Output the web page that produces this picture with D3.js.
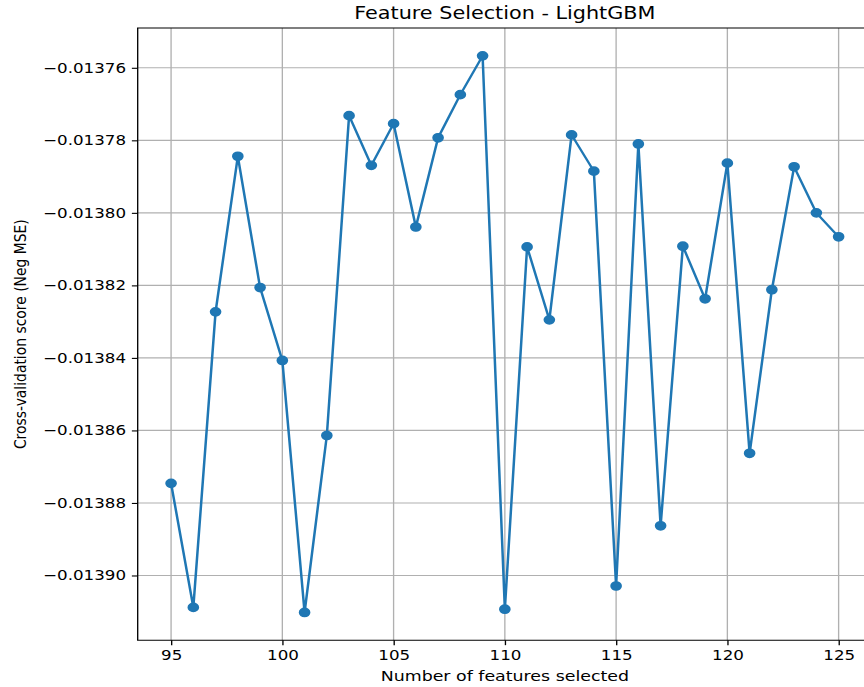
<!DOCTYPE html>
<html>
<head>
<meta charset="utf-8">
<script src="https://cdn.jsdelivr.net/npm/d3@7"></script>
<style>
  html, body { margin: 0; padding: 0; background: #fff; }
  svg { display: block; }
  text { font-family: "DejaVu Sans", sans-serif; fill: #000; }
</style>
</head>
<body>
<svg id="chart"></svg>
<script>
// ---- data ----
const features = [95, 96, 97, 98, 99, 100, 101, 102, 103, 104, 105, 106, 107, 108, 109, 110,
                  111, 112, 113, 114, 115, 116, 117, 118, 119, 120, 121, 122, 123, 124, 125];
const scores = [-0.0138746, -0.0139088, -0.0138273, -0.0137844, -0.0138206, -0.0138407,
                -0.0139102, -0.0138614, -0.0137732, -0.0137869, -0.0137754, -0.0138039,
                -0.0137793, -0.0137674, -0.0137567, -0.0139093, -0.0138094, -0.0138295,
                -0.0137785, -0.0137885, -0.0139029, -0.0137810, -0.0138863, -0.0138092,
                -0.0138237, -0.0137863, -0.0138663, -0.0138212, -0.0137873, -0.0138000,
                -0.0138066];
const xTicks = [95, 100, 105, 110, 115, 120, 125];
const yTicks = [-0.01376, -0.01378, -0.01380, -0.01382, -0.01384, -0.01386, -0.01388, -0.01390];
const titleText = "Feature Selection - LightGBM";
const xLabelText = "Number of features selected";
const yLabelText = "Cross-validation score (Neg MSE)";

(function () {
// ---- layout (drawn in a horizontally stretched coordinate system) ----
const SX = 1.2;
const VW = 864 / SX, VH = 687;
const pLeft = 137.7 / SX, pRight = 872 / SX, pTop = 28, pBottom = 640.3;

const svg = d3.select("#chart")
  .attr("width", 864).attr("height", 687)
  .attr("viewBox", `0 0 ${VW} ${VH}`)
  .attr("preserveAspectRatio", "none");

const xMin = d3.min(features), xMax = d3.max(features);
const xPad = (xMax - xMin) * 0.05;
const yMin = d3.min(scores), yMax = d3.max(scores);
const yPad = (yMax - yMin) * 0.05;

const x = d3.scaleLinear().domain([xMin - xPad, xMax + xPad]).range([pLeft, pRight]);
const y = d3.scaleLinear().domain([yMin - yPad, yMax + yPad]).range([pBottom, pTop]);

const lw = 0.8 * 100 / 72; // 0.8pt

// grid
svg.append("g").selectAll("line").data(xTicks).join("line")
  .attr("x1", d => x(d)).attr("x2", d => x(d))
  .attr("y1", pTop).attr("y2", pBottom)
  .attr("stroke", "#b0b0b0").attr("stroke-width", lw);
svg.append("g").selectAll("line").data(yTicks).join("line")
  .attr("x1", pLeft).attr("x2", pRight)
  .attr("y1", d => y(d)).attr("y2", d => y(d))
  .attr("stroke", "#b0b0b0").attr("stroke-width", lw);

// axes via d3 axis
const fmt = d => (d < 0 ? "\u2212" : "") + Math.abs(d).toFixed(5);
const tickLen = 3.5 * 100 / 72;
const xAxis = d3.axisBottom(x).tickValues(xTicks).tickSize(tickLen).tickPadding(tickLen).tickSizeOuter(0);
const yAxis = d3.axisLeft(y).tickValues(yTicks).tickSize(tickLen).tickPadding(tickLen).tickFormat(fmt).tickSizeOuter(0);

const gx = svg.append("g").attr("transform", `translate(0,${pBottom})`).call(xAxis);
const gy = svg.append("g").attr("transform", `translate(${pLeft},0)`).call(yAxis);
[gx, gy].forEach(g => {
  g.select(".domain").remove();
  g.selectAll(".tick line").attr("stroke", "#000").attr("stroke-width", lw);
  g.selectAll(".tick text").attr("font-family", "DejaVu Sans").attr("font-size", 13.9).attr("fill", "#000");
});
gx.selectAll(".tick text").attr("dy", "0.73em");

// spines (left, bottom, top; right is outside the picture)
svg.append("path")
  .attr("d", `M${pRight},${pTop}H${pLeft}V${pBottom}H${pRight}`)
  .attr("fill", "none").attr("stroke", "#000").attr("stroke-width", lw);

// line + markers
const line = d3.line().x((d, i) => x(features[i])).y(d => y(d));
svg.append("path").datum(scores)
  .attr("d", line)
  .attr("fill", "none").attr("stroke", "#1f77b4")
  .attr("stroke-width", 1.5 * 100 / 72).attr("stroke-linejoin", "round");
svg.append("g").selectAll("circle").data(scores).join("circle")
  .attr("cx", (d, i) => x(features[i])).attr("cy", d => y(d))
  .attr("r", 3 * 100 / 72)
  .attr("fill", "#1f77b4").attr("stroke", "#1f77b4").attr("stroke-width", 100 / 72);

// texts
svg.append("text").attr("x", (pLeft + pRight) / 2).attr("y", 19.5)
  .attr("text-anchor", "middle").attr("font-size", 17.3).text(titleText);
svg.append("text").attr("x", (pLeft + pRight) / 2).attr("y", 681)
  .attr("text-anchor", "middle").attr("font-size", 14.5).text(xLabelText);
svg.append("text")
  .attr("transform", `translate(22,${(pTop + pBottom) / 2}) rotate(-90)`)
  .attr("text-anchor", "middle").attr("font-size", 13.9).text(yLabelText);
})();
</script>
</body>
</html>
